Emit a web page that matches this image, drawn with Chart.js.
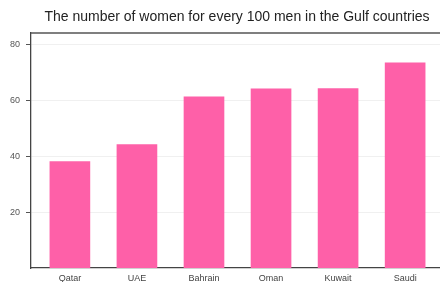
<!DOCTYPE html>
<html>
<head>
<meta charset="utf-8">
<script src="https://cdn.jsdelivr.net/npm/chart.js@4.4.1/dist/chart.umd.min.js"></script>
<style>
  html, body { margin: 0; padding: 0; background: #fff; }
  #wrap { width: 440px; height: 282px; }
</style>
</head>
<body>
<div id="wrap"><canvas id="genderChart" width="440" height="282"></canvas></div>
<script>
// Dữ liệu
const countries = ['Qatar', 'UAE', 'Bahrain', 'Oman', 'Kuwait', 'Saudi'];
const womenPer100Men = [38.2, 44.3, 61.4, 64.3, 64.4, 73.6];
const yTicks = [20, 40, 60, 80];
const chartTitle = 'The number of women for every 100 men in the Gulf countries';

// Tiêu đề + khung trên
const framePlugin = {
  id: 'frame',
  afterDraw(chart) {
    const { ctx, chartArea } = chart;
    ctx.save();
    ctx.strokeStyle = '#555';
    ctx.lineWidth = 1.3;
    ctx.beginPath();
    ctx.moveTo(chartArea.left, chartArea.top);
    ctx.lineTo(chartArea.right, chartArea.top);
    ctx.stroke();
    ctx.fillStyle = '#222';
    ctx.font = '14px "Liberation Sans", Arial, sans-serif';
    ctx.textAlign = 'center';
    ctx.textBaseline = 'middle';
    ctx.fillText(chartTitle, 237, 17);
    ctx.restore();
  }
};

const ctx = document.getElementById('genderChart').getContext('2d');

const genderChart = new Chart(ctx, {
  type: 'bar',
  data: {
    datasets: [{
      label: 'Women per 100 men',
      data: countries.map((c, i) => ({ x: i, y: womenPer100Men[i] })),
      backgroundColor: '#fe60a8',
      borderWidth: 0,
      barThickness: 40
    }]
  },
  plugins: [framePlugin],
  options: {
    animation: false,
    responsive: false,
    layout: { padding: { top: 33, right: 0, left: 0, bottom: 0 } },
    plugins: {
      legend: { display: false },
      tooltip: { enabled: false }
    },
    scales: {
      x: {
        type: 'linear',
        offset: false,
        min: -0.58,
        max: 5.52,
        afterBuildTicks: (scale) => { scale.ticks = countries.map((c, i) => ({ value: i })); },
        afterFit: (scale) => { scale.height = 14; },
        ticks: {
          color: '#444',
          padding: 5,
          maxRotation: 0,
          autoSkip: false,
          font: { family: '"Liberation Sans", Arial, sans-serif', size: 9 },
          callback: (v) => countries[v]
        },
        grid: { display: false, drawTicks: false },
        border: { color: '#444', width: 1.3 }
      },
      y: {
        min: 0,
        max: 84.3,
        afterBuildTicks: (scale) => { scale.ticks = yTicks.map(v => ({ value: v })); },
        afterFit: (scale) => { scale.width = 31; },
        ticks: {
          color: '#555',
          padding: 6,
          font: { family: '"Liberation Sans", Arial, sans-serif', size: 9 }
        },
        grid: { color: '#f0f0f0', tickColor: '#555', tickLength: 5 },
        border: { color: '#444', width: 1.3 }
      }
    }
  }
});
</script>
</body>
</html>
